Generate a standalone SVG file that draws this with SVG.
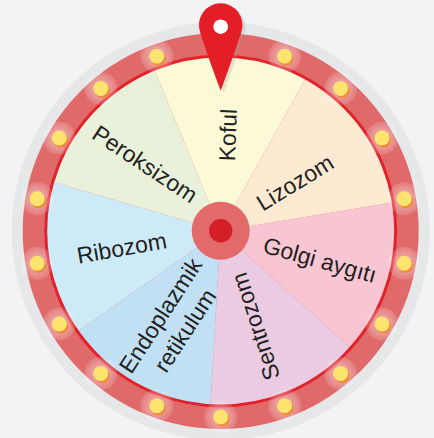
<svg xmlns="http://www.w3.org/2000/svg" width="434" height="438" viewBox="0 0 434 438">
<style>
.lbl{font-family:"Liberation Sans",Arial,sans-serif;font-size:23px;fill:#231F20;text-anchor:middle;dominant-baseline:central}
</style>
<defs>
<radialGradient id="halo">
<stop offset="0" stop-color="#fff" stop-opacity="0.55"/>
<stop offset="0.6" stop-color="#fff" stop-opacity="0.3"/>
<stop offset="1" stop-color="#fff" stop-opacity="0.12"/>
</radialGradient>
<g id="bulb">
<circle r="16.5" fill="url(#halo)"/>
<circle cx="1.5" cy="2" r="7.5" fill="#F08A3A"/>
<circle r="7.5" fill="#FDE46E"/>
</g>
</defs>
<rect width="434" height="438" fill="#F2F3F5"/>
<circle cx="220.7" cy="231" r="209" fill="#E6E7E9"/>
<circle cx="220.7" cy="231" r="198" fill="#E06A6A"/>
<g id="wheel" transform="translate(220.7,231)">
<g id="seg-koful"><path d="M0 0L-66.8 -162.8A176 176 0 0 1 85.6 -153.8Z" fill="#FCF9D7"/></g>
<g id="seg-lizozom"><path d="M0 0L85.6 -153.8A176 176 0 0 1 173.6 -28.7Z" fill="#FDEAD3"/></g>
<g id="seg-golgi"><path d="M0 0L173.6 -28.7A176 176 0 0 1 130.8 117.8Z" fill="#F8C6D3"/></g>
<g id="seg-sentrozom"><path d="M0 0L130.8 117.8A176 176 0 0 1 -10.4 175.7Z" fill="#EBCBE2"/></g>
<g id="seg-endo"><path d="M0 0L-10.4 175.7A176 176 0 0 1 -144 101.2Z" fill="#C1E0F4"/></g>
<g id="seg-ribozom"><path d="M0 0L-144 101.2A176 176 0 0 1 -168.9 -49.4Z" fill="#CDEAF8"/></g>
<g id="seg-peroksizom"><path d="M0 0L-168.9 -49.4A176 176 0 0 1 -66.8 -162.8Z" fill="#EAF1DA"/></g>
<circle r="175" fill="none" stroke="#E1222A" stroke-width="3"/>
</g>
<g id="bulbs">
<use href="#bulb" x="284.6" y="56.2"/>
<use href="#bulb" x="340.6" y="88.5"/>
<use href="#bulb" x="382.1" y="138"/>
<use href="#bulb" x="404.2" y="198.7"/>
<use href="#bulb" x="404.2" y="263.3"/>
<use href="#bulb" x="382.1" y="324"/>
<use href="#bulb" x="340.6" y="373.5"/>
<use href="#bulb" x="284.6" y="405.8"/>
<use href="#bulb" x="220.7" y="417"/>
<use href="#bulb" x="156.8" y="405.8"/>
<use href="#bulb" x="100.8" y="373.5"/>
<use href="#bulb" x="59.3" y="324"/>
<use href="#bulb" x="37.2" y="263.3"/>
<use href="#bulb" x="37.2" y="198.7"/>
<use href="#bulb" x="59.3" y="138"/>
<use href="#bulb" x="100.8" y="88.5"/>
<use href="#bulb" x="156.8" y="56.2"/>
</g>
<g id="labels">
<text class="lbl" transform="translate(228,135) rotate(-88)">Koful</text>
<text class="lbl" transform="translate(295,182.5) rotate(-31.5)">Lizozom</text>
<text class="lbl" transform="translate(320,260) rotate(15.5)">Golgi aygıtı</text>
<text class="lbl" transform="translate(255.5,326.5) rotate(-108)">Sentrozom</text>
<text class="lbl" transform="translate(160.5,315.5) rotate(-57)">Endoplazmik</text>
<text class="lbl" transform="translate(185,330.5) rotate(-57)">retikulum</text>
<text class="lbl" transform="translate(121.7,248) rotate(-10)">Ribozom</text>
<text class="lbl" transform="translate(145,164) rotate(33.5)">Peroksizom</text>
</g>
<g id="hub">
<circle cx="220.7" cy="230.7" r="29" fill="#E36A6A"/>
<circle cx="220.7" cy="230.7" r="11.7" fill="#D41F29"/>
</g>
<g id="pointer">
<path d="M220.7 3.3A21.8 21.8 0 0 1 241.3 32.2Q232 60 220.7 90.7Q209 60 200.1 32.2A21.8 21.8 0 0 1 220.7 3.3Z" fill="#9A9A9A" opacity="0.25" transform="translate(3,2)"/>
<path d="M220.7 3.3A21.8 21.8 0 0 1 241.3 32.2Q232 60 220.7 90.7Q209 60 200.1 32.2A21.8 21.8 0 0 1 220.7 3.3Z" fill="#E41E26"/>
<circle cx="220.7" cy="26.7" r="7.3" fill="#FFFFFF"/>
</g>
</svg>
